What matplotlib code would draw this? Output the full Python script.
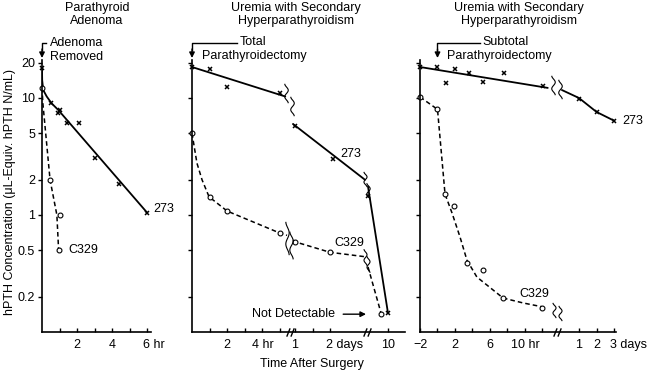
import numpy as np
import matplotlib.pyplot as plt
from matplotlib.path import Path
from matplotlib.ticker import FixedLocator, FixedFormatter, NullLocator
from matplotlib.transforms import ScaledTranslation

plt.rcParams['font.family'] = ['Liberation Sans', 'DejaVu Sans']
plt.rcParams['font.size'] = 9

# ---- data (time in hours, hPTH in uL-equiv/mL) ----
# panel 1: parathyroid adenoma
adn_273_t = [0, 0.5, 0.9, 1.0, 1.4, 2.1, 3.0, 4.4, 6.0]
adn_273_v = [18, 9.1, 7.4, 7.9, 6.1, 6.1, 3.1, 1.84, 1.05]
adn_273_line_t = [0, 0.01, 0.07, 0.27, 0.55, 0.93, 6.0]
adn_273_line_v = [18, 14.2, 11.7, 10.3, 9.0, 7.9, 1.05]
adn_c329_t = [0, 0.46, 1.03, 0.95]
adn_c329_v = [12.2, 2.0, 1.0, 0.5]
adn_c329_line_t = [0, 0.05, 0.46, 0.85, 0.95]
adn_c329_line_v = [12.2, 9.0, 2.0, 1.0, 0.5]

# panel 2: total parathyroidectomy
tot_273_t = [0, 1, 2, 5, 24, 50, 216, 240]
tot_273_v = [18.4, 17.8, 12.4, 11.0, 5.8, 3.0, 1.45, 0.145]
tot_273_segs = [([0, 5.3], [18.4, 10.3]),
                ([18, 72], [6.0, 2.0]),
                ([216, 240], [1.75, 0.145])]
tot_c329_t = [0, 1, 2, 5, 24, 48, 232]
tot_c329_v = [5.0, 1.42, 1.08, 0.70, 0.59, 0.48, 0.142]
tot_c329_segs = [([0, 0.28, 0.57, 0.97, 2, 5, 5.4],
                  [5.0, 2.78, 2.0, 1.43, 1.08, 0.70, 0.67]),
                 ([18, 24, 48, 72], [0.61, 0.59, 0.48, 0.44]),
                 ([216, 232], [0.36, 0.142])]

# panel 3: subtotal parathyroidectomy
sub_273_t = [-2, 0, 1, 2, 3.6, 5.2, 7.6, 12.1, 24, 48, 72]
sub_273_v = [18.4, 18.4, 13.5, 17.6, 16.3, 13.8, 16.3, 12.7, 9.9, 7.6, 6.4]
sub_273_segs = [([-2, 12.6], [18.4, 12.2]),
                ([15, 24, 48, 72], [11.7, 10.0, 7.6, 6.4])]
sub_c329_t = [-2, 0, 0.86, 1.9, 3.4, 5.2, 7.5, 12]
sub_c329_v = [10.2, 8.0, 1.5, 1.19, 0.39, 0.34, 0.195, 0.16]
sub_c329_line_t = [-2, 0, 0.86, 1.66, 2.57, 3.37, 4.5, 6, 7.5, 9.8, 12]
sub_c329_line_v = [10.2, 8.0, 1.51, 1.04, 0.65, 0.41, 0.295, 0.24, 0.195, 0.177, 0.164]

y_ticks = [20, 10, 5, 2, 1, 0.5, 0.2]
y_labels = ['20', '10', '5', '2', '1', '0.5', '0.2']

# piecewise time axes (hours -> axis units)
mid_knots_h = [0, 5.5, 24, 72, 216, 240, 262]
mid_knots_u = [0, 96.8, 103, 173, 176, 196, 213]
right_knots_h = [-2, 14, 24, 100]
right_knots_u = [0, 140, 159, 214.5]

# ---- figure ----
W, H = 650, 375
fig = plt.figure(figsize=(6.5, 3.75), dpi=100)
y0, y1 = 332, 60.3


def add_ax(xl, xr):
    return fig.add_axes([xl / W, (H - y0) / H, (xr - xl) / W, (y0 - y1) / H])


ax1 = add_ax(42, 150.5)
ax2 = add_ax(192, 405)
ax3 = add_ax(420, 615.5)

ax2.set_xscale('function', functions=(lambda x: np.interp(x, mid_knots_h, mid_knots_u),
                                      lambda u: np.interp(u, mid_knots_u, mid_knots_h)))
ax3.set_xscale('function', functions=(lambda x: np.interp(x, right_knots_h, right_knots_u),
                                      lambda u: np.interp(u, right_knots_u, right_knots_h)))

for ax in (ax1, ax2, ax3):
    ax.set_yscale('log')
    ax.set_ylim(0.1, 21)
    ax.spines[['top', 'right']].set_visible(False)
    ax.spines[['left', 'bottom']].set_linewidth(1.2)
    ax.yaxis.set_major_locator(FixedLocator(y_ticks))
    ax.yaxis.set_minor_locator(NullLocator())
    ax.tick_params(axis='y', direction='out', length=3, width=1, pad=2)
    ax.tick_params(axis='x', direction='in', length=3, width=1, pad=5)
    ax.patch.set_visible(False)

ax1.yaxis.set_major_formatter(FixedFormatter(y_labels))
ax2.set_yticklabels([])
ax3.set_yticklabels([])

ax1.set_xlim(0, 6.2)
ax1.set_xticks([1, 2, 3, 4, 5, 6], ['', '2', '', '4', '', '6 hr'])
ax2.set_xlim(0, 262)
ax2.set_xticks([1, 2, 3, 4, 5, 24, 36, 48, 240],
               ['', '2', '', '4 hr', '', '1', '', '2 days', '10'])
ax3.set_xlim(-2, 74)
ax3.set_xticks([-2, 0, 2, 4, 6, 8, 10, 12, 24, 48, 72],
               ['\u22122', '', '2', '', '6', '', '10 hr', '', '1', '2', '3 days'])

# digit sits on the tick, unit runs to the right
for ax in (ax1, ax2, ax3):
    for lbl in ax.get_xticklabels():
        if lbl.get_text() in ('6 hr', '2 days', '3 days'):
            lbl.set_ha('left')
            lbl.set_transform(lbl.get_transform() +
                              ScaledTranslation(-3 / 72, 0, fig.dpi_scale_trans))

solid = dict(color='black', lw=1.3, solid_capstyle='round')
dashed = dict(color='black', lw=1.1, ls=(0, (3, 2)))
xmark = dict(ls='none', marker='x', ms=3, mew=1.1, color='black')
omark = dict(ls='none', marker='o', ms=3.5, mew=0.8, mfc='white', mec='black')

# panel 1
ax1.plot(adn_273_line_t, adn_273_line_v, **solid)
ax1.plot(adn_c329_line_t, adn_c329_line_v, **dashed)
ax1.plot(adn_273_t, adn_273_v, clip_on=False, **xmark)
ax1.plot(adn_c329_t, adn_c329_v, clip_on=False, **omark)
ax1.text(6.35, 1.12, '273', ha='left', va='center', clip_on=False)
ax1.text(1.5, 0.5, 'C329', ha='left', va='center')

# panel 2
for t, v in tot_273_segs:
    ax2.plot(t, v, **solid)
for t, v in tot_c329_segs:
    ax2.plot(t, v, **dashed)
ax2.plot(tot_273_t, tot_273_v, clip_on=False, **xmark)
ax2.plot(tot_c329_t, tot_c329_v, clip_on=False, **omark)
ax2.text(55, 3.3, '273', ha='left', va='center')
ax2.text(51, 0.58, 'C329', ha='left', va='center')
ax2.annotate('Not Detectable', xy=(120, 0.142), xytext=(3.4, 0.142),
             ha='left', va='center',
             arrowprops=dict(arrowstyle='-|>', color='black', lw=1,
                             mutation_scale=8, shrinkA=4, shrinkB=0))

# panel 3
for t, v in sub_273_segs:
    ax3.plot(t, v, **solid)
ax3.plot(sub_c329_line_t, sub_c329_line_v, **dashed)
ax3.plot(sub_273_t, sub_273_v, clip_on=False, **xmark)
ax3.plot(sub_c329_t, sub_c329_v, clip_on=False, **omark)
ax3.text(84, 6.4, '273', ha='left', va='center', clip_on=False)
ax3.text(9.4, 0.21, 'C329', ha='left', va='center')


# break squiggles on the curves and // on the time axes
def wave(amp):
    s = np.linspace(-0.5, 0.5, 41)
    return Path(np.column_stack([amp * np.sin(3 * np.pi * s), s]))


slash = Path([(-0.45, -0.5), (-0.05, 0.5), (0.05, -0.5), (0.45, 0.5)],
             [Path.MOVETO, Path.LINETO, Path.MOVETO, Path.LINETO])
wave_style = dict(ls='none', mfc='none', mec='black', mew=0.8)

ax2.plot([5.34, 16.5], [11.0, 8.5], marker=wave(0.09), ms=14, **wave_style)
ax2.plot([72], [2.02], marker=wave(0.1), ms=11, **wave_style)
ax2.plot([216], [1.6], marker=wave(0.1), ms=12, **wave_style)
ax2.plot([5.37], [0.63], marker=wave(0.05), ms=24, **wave_style)
ax2.plot([13.5], [0.55], marker=wave(0.06), ms=20, **wave_style)
ax2.plot([72], [0.44], marker=wave(0.09), ms=12, **wave_style)
ax2.plot([216], [0.38], marker=wave(0.09), ms=12, **wave_style)
ax3.plot([13.2, 14.0], [12.9, 11.9], marker=wave(0.09), ms=14, **wave_style)
ax3.plot([13.3, 14.1], [0.155, 0.145], marker=wave(0.1), ms=11, **wave_style)

ax2.plot([9, 144], [0.1, 0.1], ls='none', marker=slash, ms=6, mew=1,
         mec='black', clip_on=False)
ax3.plot([13.7], [0.1], ls='none', marker=slash, ms=6, mew=1,
         mec='black', clip_on=False)


# surgery arrows (x = time of surgery, y above the axes)
def fy(py):
    return (y0 - py) / (y0 - y1)


def surgery(ax, hook_t, lines):
    tr = ax.get_xaxis_transform()
    ax.plot([hook_t, 0, 0], [fy(43), fy(43), fy(50)], color='black', lw=1,
            transform=tr, clip_on=False)
    ax.annotate('', xy=(0, fy(58)), xytext=(0, fy(49)), xycoords=tr,
                arrowprops=dict(arrowstyle='-|>', color='black', lw=1,
                                mutation_scale=8, shrinkA=0, shrinkB=0))
    for t, py, txt in lines:
        ax.text(t, fy(py), txt, transform=tr, ha='left', va='center')


surgery(ax1, 0.25, [(0.46, 43, 'Adenoma'), (0.46, 57, 'Removed')])
surgery(ax2, 2.56, [(2.73, 42, 'Total'), (0.57, 56, 'Parathyroidectomy')])
surgery(ax3, 4.86, [(5.1, 42, 'Subtotal'), (1.1, 56, 'Parathyroidectomy')])

# titles and axis labels
fig.text(97 / W, 1 - 14.5 / H, 'Parathyroid\nAdenoma', ha='center', va='center')
fig.text(296 / W, 1 - 14.5 / H, 'Uremia with Secondary\nHyperparathyroidism',
         ha='center', va='center')
fig.text(519 / W, 1 - 14.5 / H, 'Uremia with Secondary\nHyperparathyroidism',
         ha='center', va='center')
fig.text(10 / W, 1 - 192 / H, 'hPTH Concentration (\u03bcL-Equiv. hPTH N/mL)',
         rotation=90, ha='center', va='center')
fig.text(312 / W, 1 - 364 / H, 'Time After Surgery', ha='center', va='center')

fig.savefig('out.png', dpi=100)
